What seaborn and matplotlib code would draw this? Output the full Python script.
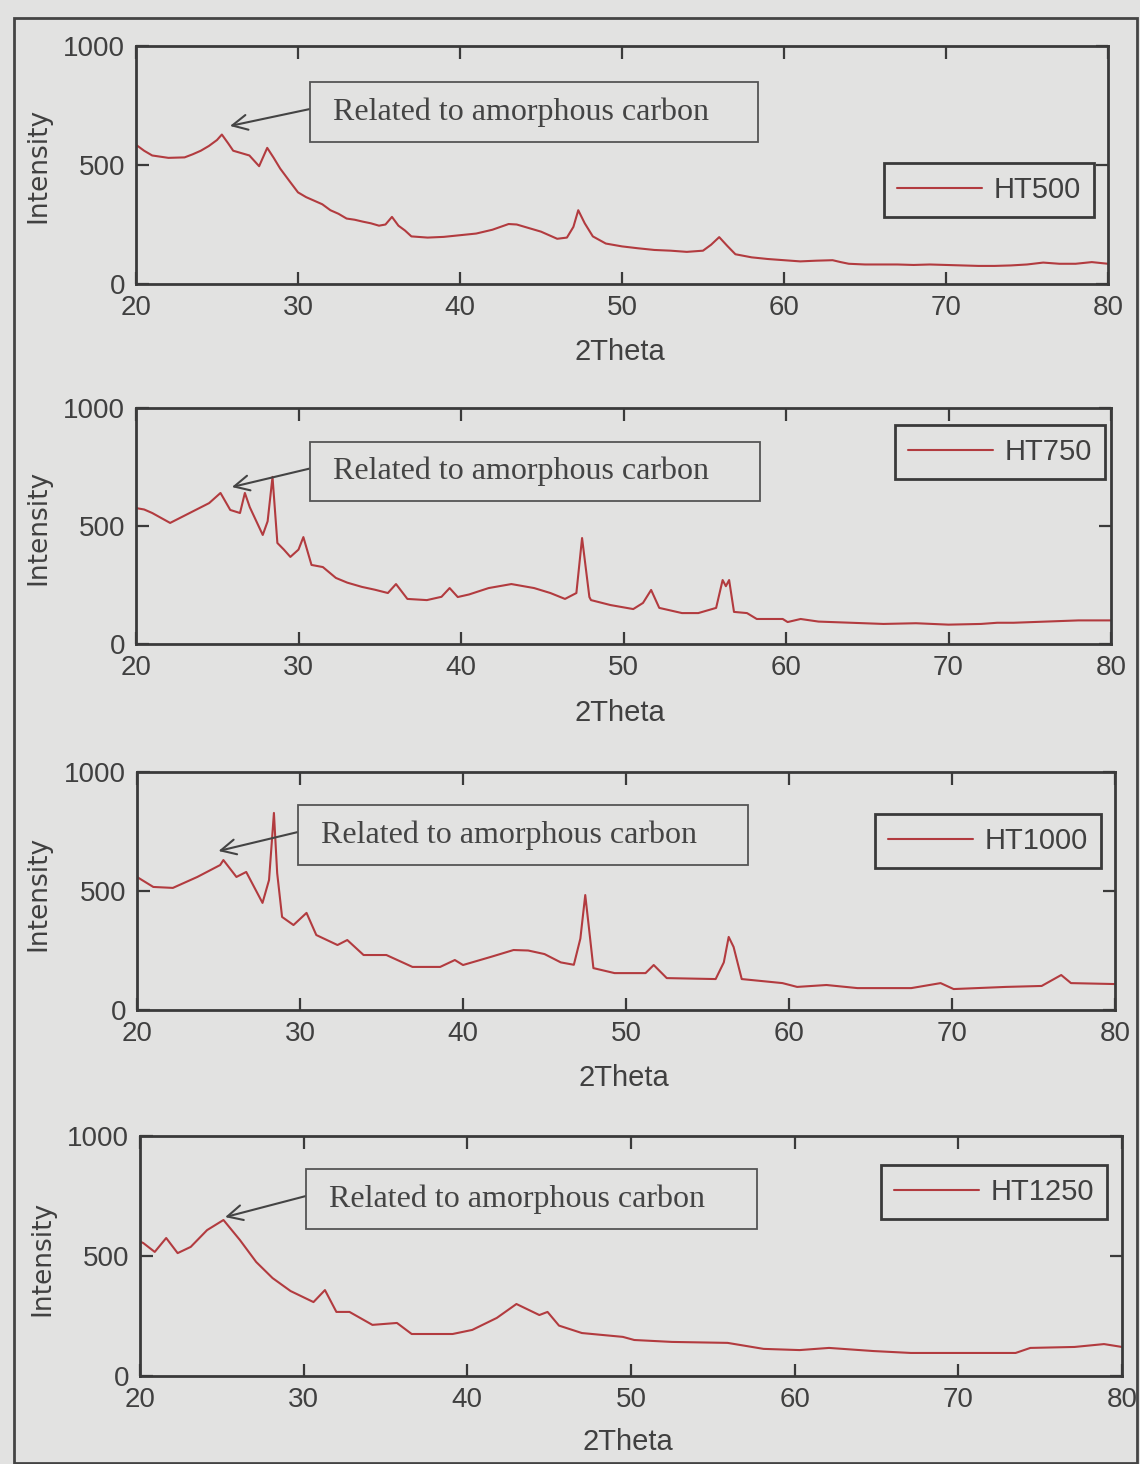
import numpy as np
import pandas as pd
import matplotlib
matplotlib.use("Agg")
import matplotlib.pyplot as plt
from matplotlib.patches import Rectangle
import seaborn as sns

# ---------------- data ----------------
ht500_x = [20.0, 20.5, 21.0, 22.0, 23.0, 23.5, 24.0, 24.5, 25.0, 25.3, 25.7, 26.0, 26.5, 27.0,
           27.6, 28.1, 28.5, 28.9, 29.5, 30.0, 30.5, 31.0, 31.5, 32.0, 32.5, 33.0, 33.5, 34.0,
           34.5, 35.0, 35.4, 35.8, 36.2, 36.6, 37.0, 38.0, 39.0, 40.0, 41.0, 42.0, 42.5, 43.0,
           43.5, 44.0, 45.0, 45.5, 46.0, 46.6, 47.0, 47.3, 47.7, 48.2, 49.0, 50.0, 51.0, 52.0,
           53.0, 54.0, 55.0, 55.5, 56.0, 56.5, 57.0, 58.0, 59.0, 60.0, 61.0, 62.0, 63.0, 63.5,
           64.0, 65.0, 66.0, 67.0, 68.0, 69.0, 70.0, 71.0, 72.0, 73.0, 74.0, 75.0, 76.0, 77.0,
           78.0, 79.0, 80.0]
ht500_y = [585, 560, 540, 530, 532, 545, 560, 580, 605, 628, 590, 560, 550, 540,
           495, 572, 530, 485, 430, 385, 365, 350, 335, 310, 295, 275, 270, 262,
           255, 245, 250, 282, 245, 225, 200, 195, 198, 205, 212, 228, 240, 252,
           250, 240, 220, 205, 190, 195, 240, 310, 255, 200, 170, 158, 150, 143,
           140, 135, 140, 165, 197, 160, 125, 112, 105, 100, 95, 98, 100, 92,
           85, 82, 82, 82, 80, 82, 80, 78, 76, 76, 78, 82, 90, 85,
           85, 92, 85]

ht750_x = [20.0, 20.5, 21.0, 22.1, 23.3, 24.5, 25.2, 25.8, 26.4, 26.7, 27.0, 27.8, 28.1, 28.4,
           28.7, 29.1, 29.5, 30.0, 30.3, 30.8, 31.5, 32.3, 33.0, 33.9, 34.7, 35.5, 36.0, 36.7,
           37.9, 38.8, 39.3, 39.8, 40.5, 41.7, 43.1, 44.5, 45.5, 46.4, 47.1, 47.45, 47.9, 48.0,
           49.2, 50.6, 51.2, 51.7, 52.2, 53.6, 54.6, 55.7, 56.1, 56.3, 56.5, 56.8, 57.6, 58.2,
           59.8, 60.1, 60.9, 62.0, 64.0, 66.0, 68.0, 70.0, 72.0, 73.0, 74.0, 76.0, 78.0, 80.0]
ht750_y = [576, 570, 555, 513, 555, 597, 640, 568, 555, 640, 580, 462, 520, 708,
           428, 400, 369, 400, 453, 335, 326, 280, 260, 242, 230, 216, 254, 191,
           186, 200, 237, 199, 210, 237, 254, 237, 216, 191, 216, 449, 199, 186,
           165, 148, 174, 229, 153, 131, 131, 153, 271, 245, 271, 136, 131, 106,
           106, 93, 106, 95, 90, 85, 88, 82, 85, 90, 90, 95, 100, 100]

ht1000_x = [20.0, 21.0, 22.2, 23.7, 25.1, 25.3, 26.1, 26.7, 27.7, 28.1, 28.4, 28.6, 28.9, 29.6,
            30.4, 31.0, 32.3, 32.9, 33.9, 35.3, 36.9, 38.6, 39.5, 40.0, 41.7, 43.1, 44.0, 45.0,
            46.0, 46.8, 47.2, 47.5, 47.8, 48.0, 49.3, 51.2, 51.7, 52.5, 55.5, 56.0, 56.3, 56.6,
            57.1, 59.6, 60.5, 62.3, 64.2, 67.5, 69.3, 70.1, 73.3, 75.5, 76.7, 77.3, 80.0]
ht1000_y = [559, 517, 513, 559, 609, 630, 559, 580, 450, 546, 828, 575, 391, 357,
            408, 315, 273, 294, 231, 231, 181, 181, 210, 189, 223, 252, 250, 235,
            200, 190, 300, 483, 300, 176, 155, 155, 189, 134, 130, 200, 307, 265,
            130, 113, 97, 105, 92, 92, 113, 88, 97, 101, 147, 113, 109]

ht1250_x = [20.0, 20.2, 20.9, 21.6, 22.3, 23.1, 24.1, 25.1, 26.1, 27.1, 28.1, 29.2, 30.6, 31.3,
            32.0, 32.8, 34.2, 35.7, 36.6, 39.1, 40.3, 41.8, 43.0, 44.4, 44.9, 45.6, 47.0, 49.5,
            50.2, 52.5, 55.9, 58.1, 60.3, 62.1, 64.8, 67.1, 73.5, 74.4, 77.1, 78.9, 80.0]
ht1250_y = [560, 554, 517, 575, 512, 538, 608, 650, 567, 475, 408, 354, 308, 358,
            267, 267, 213, 221, 175, 175, 192, 242, 300, 254, 267, 210, 179, 163,
            150, 142, 138, 113, 108, 117, 104, 96, 96, 117, 121, 133, 121]

series_names = ["HT500", "HT750", "HT1000", "HT1250"]
series_x = [ht500_x, ht750_x, ht1000_x, ht1250_x]
series_y = [ht500_y, ht750_y, ht1000_y, ht1250_y]
arrow_tips = [(25.8, 664), (25.9, 665), (25.0, 668), (25.2, 662)]   # (2Theta, Intensity)

annotation_text = "Related to amorphous carbon"
x_ticks = [20, 30, 40, 50, 60, 70, 80]
y_ticks = [0, 500, 1000]
x_label = "2Theta"
y_label = "Intensity"

# ---------------- style ----------------
W, H = 1140, 1464
BG = "#e2e2e1"
DARK = "#3a3a3a"
LINE = "#b23b3f"
TXT = "#404040"

sns.set_theme(style="ticks")
plt.rcParams["font.family"] = ["Liberation Sans", "DejaVu Sans"]
plt.rcParams["axes.edgecolor"] = DARK

fig = plt.figure(figsize=(W / 100, H / 100), dpi=100, facecolor=BG)

def ff(x, y):
    """pixel (from top-left) -> figure fraction"""
    return x / W, 1 - y / H

# axes rectangles in pixels: left, top, right, bottom
axes_px = [(136, 46, 1108, 284), (136, 408, 1111, 644),
           (137, 772, 1115, 1010), (140, 1136, 1122, 1376)]
box_px = [(310, 82, 758, 142), (310, 442, 760, 501),
          (298, 805, 748, 865), (306, 1169, 757, 1229)]
legend_center_px = [(989, 190), (1000, 452), (988, 841), (994, 1192)]
xlabel_px = [(620, 352), (620, 713), (624, 1078), (628, 1442)]
ylabel_px = [(38, 165), (38, 527), (38, 893), (42, 1258)]

for i in range(4):
    l, t, r, b = axes_px[i]
    ax = fig.add_axes([l / W, 1 - b / H, (r - l) / W, (b - t) / H])
    ax.set_facecolor(BG)
    df = pd.DataFrame({"2Theta": series_x[i], "Intensity": series_y[i]})
    sns.lineplot(data=df, x="2Theta", y="Intensity", ax=ax, color=LINE,
                 linewidth=1.5, label=series_names[i], sort=False, estimator=None)
    ax.set_xlim(20, 80)
    ax.set_ylim(0, 1000)
    ax.set_xticks(x_ticks)
    ax.set_yticks(y_ticks)
    ax.tick_params(direction="in", length=9, width=1.6, color=DARK,
                   top=True, right=True, labelsize=20, labelcolor=TXT, pad=8)
    for s in ax.spines.values():
        s.set_linewidth(2.0)
        s.set_color(DARK)

    ax.set_xlabel(x_label, fontsize=21, color=TXT, va="center", ha="center")
    ax.xaxis.set_label_coords(*ff(*xlabel_px[i]), transform=fig.transFigure)
    ax.set_ylabel(y_label, fontsize=19, color=TXT, va="center", ha="center",
                  family=["DejaVu Sans"])
    ax.yaxis.set_label_coords(*ff(*ylabel_px[i]), transform=fig.transFigure)

    # legend
    leg = ax.legend(loc="center", bbox_to_anchor=ff(*legend_center_px[i]),
                    bbox_transform=fig.transFigure, fontsize=21, frameon=True,
                    fancybox=False, handlelength=2.9, handletextpad=0.4,
                    borderpad=0.45, borderaxespad=0)
    leg.get_frame().set_facecolor(BG)
    leg.get_frame().set_edgecolor(DARK)
    leg.get_frame().set_linewidth(2.0)
    leg.get_frame().set_alpha(1)
    for txt in leg.get_texts():
        txt.set_color(TXT)
    for ln in leg.get_lines():
        ln.set_linewidth(1.5)

    # annotation box + arrow
    bx0, by0, bx1, by1 = box_px[i]
    x0, y1f = ff(bx0, by0)
    x1, y0f = ff(bx1, by1)
    fig.add_artist(Rectangle((x0, y0f), x1 - x0, y1f - y0f, transform=fig.transFigure,
                             facecolor=BG, edgecolor="#555555", linewidth=1.3, zorder=5))
    fig.text(*ff(bx0 + 211, (by0 + by1) / 2), annotation_text, ha="center", va="center",
             fontsize=23, color="#444444", family=["Liberation Serif", "DejaVu Serif"],
             zorder=6)
    tail = ff(bx0, (by0 + by1) / 2 - 3)
    ax.annotate("", xy=arrow_tips[i], xycoords="data",
                xytext=tail, textcoords="figure fraction",
                arrowprops=dict(arrowstyle="->,head_length=0.9,head_width=0.45",
                                color="#444444", lw=1.5, shrinkA=0, shrinkB=0),
                zorder=6)

# outer border
fig.add_artist(Rectangle(ff(14, 1463), (1137 - 14) / W, (1463 - 18) / H,
                         transform=fig.transFigure, fill=False,
                         edgecolor="#444444", linewidth=2.0))

fig.savefig("out.png", dpi=100, facecolor=BG)
